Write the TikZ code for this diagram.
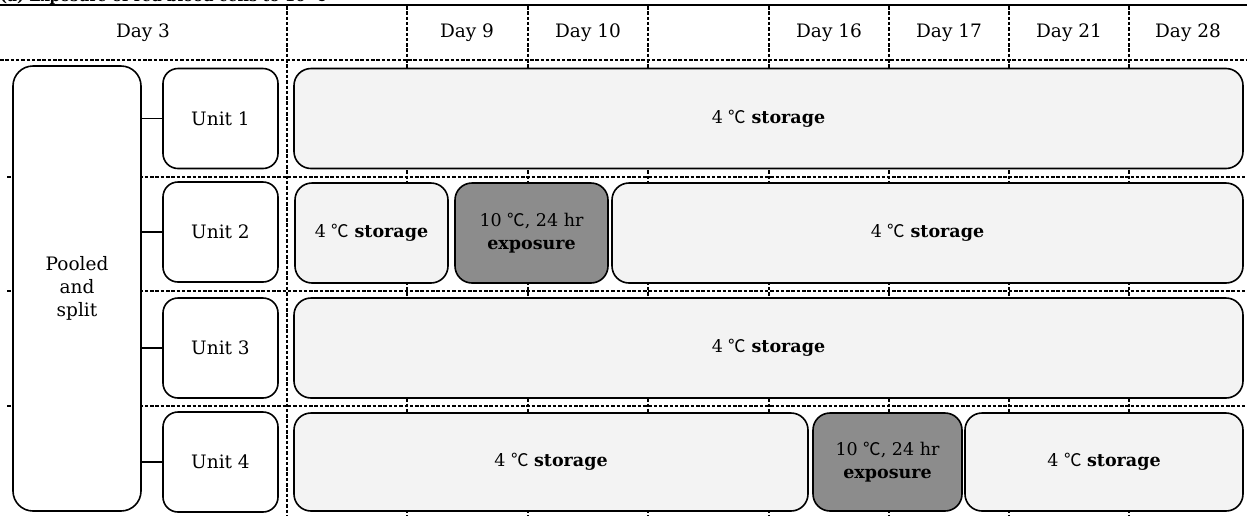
\documentclass[tikz,border=0pt]{standalone}
\usepackage{fontspec}
\setmainfont{DejaVu Serif}
\newfontfamily\cjk{Noto Sans CJK JP}
\newcommand{\degc}{{\cjk ℃}}
\definecolor{storefill}{RGB}{243,243,243}
\definecolor{expofill}{RGB}{140,140,140}
\begin{document}
\begin{tikzpicture}[x=1pt,y=-1pt,
  grid/.style={line width=1.7pt,dash pattern=on 3.5pt off 1.8pt},
  boxbase/.style={draw,line width=1.6pt,inner sep=0pt,anchor=center,align=center,font=\fontsize{17.5}{23}\selectfont},
  poolbox/.style={boxbase,fill=white,rounded corners=20pt,font=\fontsize{18.5}{23}\selectfont},
  unitbox/.style={boxbase,fill=white,rounded corners=15pt,minimum width=115pt,minimum height=100pt,font=\fontsize{18.5}{23}\selectfont},
  storebox/.style={boxbase,fill=storefill,rounded corners=17pt,minimum height=100pt},
  expobox/.style={boxbase,fill=expofill,rounded corners=17pt,minimum height=100pt},
  daylbl/.style={font=\fontsize{18.5}{22}\selectfont,inner sep=0pt,anchor=center},
  link/.style={line width=1.6pt}
]
\useasboundingbox (0,0) rectangle (1247,515);
% caption (mostly cut off at the top, as in the reference)
\node[anchor=base west,inner sep=0pt,font=\bfseries\fontsize{15}{18}\selectfont] (cap) at (0,1.5) {(a) Exposure of red blood cells to 10 \degc};
% top rule
\draw[line width=2.4pt] (0,5) -- (1247,5);
% grid
\draw[grid] (0,60) -- (1247,60);
\foreach \y in {177,291,406} \draw[grid] (7,\y) -- (1247,\y);
\foreach \x in {287,407,528,648,769,889,1009,1129} \draw[grid] (\x,6) -- (\x,515);
% header labels
\node[daylbl] (d3) at (143,33) {Day 3};
\node[daylbl] (d9) at (467,33) {Day 9};
\node[daylbl] (d10) at (588,33) {Day 10};
\node[daylbl] (d16) at (829,33) {Day 16};
\node[daylbl] (d17) at (949,33) {Day 17};
\node[daylbl] (d21) at (1069,33) {Day 21};
\node[daylbl] (d28) at (1188,33) {Day 28};
% pooled box
\node[poolbox,minimum width=128pt,minimum height=445pt] (pool) at (77,288.5) {Pooled\\and\\split};
% units
\node[unitbox] (u1) at (220.5,118.5) {Unit 1};
\node[unitbox] (u2) at (220.5,232) {Unit 2};
\node[unitbox] (u3) at (220.5,348) {Unit 3};
\node[unitbox] (u4) at (220.5,462) {Unit 4};
\foreach \u in {u1,u2,u3,u4} \draw[link] (\u.west) -- (\u.west -| pool.east);
% row 1
\node[storebox,minimum width=949pt] (s1) at (768.5,118.5) {4 \degc\ \textbf{storage}};
% row 2
\node[storebox,minimum width=153pt] (s2a) at (371.5,233) {4 \degc\ \textbf{storage}};
\node[expobox,minimum width=153pt] (e2) at (531.5,233) {10 \degc, 24 hr\\\textbf{exposure}};
\node[storebox,minimum width=631pt] (s2b) at (927.5,233) {4 \degc\ \textbf{storage}};
% row 3
\node[storebox,minimum width=949pt] (s3) at (768.5,348) {4 \degc\ \textbf{storage}};
% row 4
\node[storebox,minimum width=514pt,minimum height=98pt] (s4a) at (551,462) {4 \degc\ \textbf{storage}};
\node[expobox,minimum width=149pt,minimum height=98pt] (e4) at (887.5,462) {10 \degc, 24 hr\\\textbf{exposure}};
\node[storebox,minimum width=278pt,minimum height=98pt] (s4b) at (1104,462) {4 \degc\ \textbf{storage}};
\end{tikzpicture}
\end{document}
